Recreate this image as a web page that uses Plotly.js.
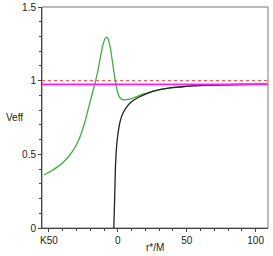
<!DOCTYPE html>
<html>
<head>
<meta charset="utf-8">
<script src="https://cdn.plot.ly/plotly-3.0.1.min.js"></script>
<style>html,body{margin:0;padding:0;background:#fff;}#chart{width:273px;height:256px;}</style>
</head>
<body>
<div id="chart"></div>
<script>
// Green curve (potential with barrier)
const greenR = [-53.6,-48,-44,-40,-36,-33,-30,-28,-26,-24,-22,-20,-18,-16.2,-14.5,-13,-11.5,-10.2,-9.1,-8.2,-7.3,-6.3,-5.3,-4.2,-3.2,-2.2,-1.3,-0.6,0.2,1,2.3,4,5.5,7.5,11,15,20,23.2,30.4,37,44.9,54.3,68.8,88.4,108];
const greenV = [0.36,0.389,0.413,0.443,0.482,0.518,0.565,0.605,0.655,0.716,0.787,0.86,0.93,0.995,1.065,1.142,1.213,1.262,1.287,1.295,1.288,1.26,1.215,1.15,1.085,1.02,0.975,0.94,0.91,0.893,0.878,0.871,0.870,0.873,0.882,0.897,0.913,0.921,0.940,0.950,0.957,0.965,0.970,0.974,0.976];
// Black curve
const blackR = [-2.9,-2.3,-1.7,-0.8,0.2,1.96,3.8,6,8.7,12,15.9,23.2,30.4,37,44.9,54.3,68.8,88.4,108];
const blackV = [0,0.19,0.416,0.56,0.645,0.733,0.78,0.815,0.847,0.87,0.891,0.921,0.940,0.950,0.957,0.965,0.970,0.974,0.976];
// Horizontal reference levels
const levelX = [-55, 109];
const dottedLevel = [1, 1];
const magentaLevel = [0.975, 0.975];
// Axis ticks
const xTickVals = [-50, 0, 50, 100];
const xTickText = ["K50", "0", "50", "100"];
const yTickVals = [0, 0.5, 1, 1.5];
const yTickText = ["0", "0.5", "1", "1.5"];

const traces = [
  {x: levelX, y: dottedLevel, mode: 'lines', line: {color: '#ff3a3a', width: 1, dash: 'dot'}, hoverinfo: 'skip'},
  {x: greenR, y: greenV, mode: 'lines', line: {color: '#3fae3f', width: 1.3, shape: 'spline', smoothing: 0.8}},
  {x: blackR, y: blackV, mode: 'lines', line: {color: '#222222', width: 1.3, shape: 'spline', smoothing: 0.6}},
  {x: levelX, y: magentaLevel, mode: 'lines', line: {color: '#ff1aff', width: 1.6}}
];

const layout = {
  width: 273, height: 256,
  margin: {l: 42, r: 5, t: 7, b: 28},
  paper_bgcolor: '#ffffff', plot_bgcolor: '#ffffff',
  showlegend: false,
  font: {family: 'Arial, "Liberation Sans", sans-serif', size: 10, color: '#222'},
  xaxis: {
    range: [-55, 109], showgrid: false, zeroline: false,
    tickmode: 'array', tickvals: xTickVals, ticktext: xTickText,
    ticks: 'outside', ticklen: 3, tickwidth: 1, tickcolor: '#444',
    showline: true, linecolor: '#444', linewidth: 1,
    minor: {dtick: 10, ticks: 'outside', ticklen: 2, tickcolor: '#444', showgrid: false},
    tickfont: {size: 10, color: '#222'}
  },
  yaxis: {
    range: [0, 1.5], showgrid: false, zeroline: false,
    tickmode: 'array', tickvals: yTickVals, ticktext: yTickText,
    ticks: 'outside', ticklen: 3, tickwidth: 1, tickcolor: '#444',
    showline: true, linecolor: '#444', linewidth: 1,
    minor: {dtick: 0.1, ticks: 'outside', ticklen: 2, tickcolor: '#444', showgrid: false},
    tickfont: {size: 10, color: '#222'}
  },
  shapes: [
    {type: 'rect', xref: 'paper', yref: 'paper', x0: 0, x1: 1, y0: 0, y1: 1, line: {color: '#777', width: 1}, layer: 'below'}
  ],
  annotations: [
    {text: 'Veff', xref: 'paper', yref: 'paper', x: -0.122, y: 0.5, showarrow: false, xanchor: 'center', yanchor: 'middle', font: {size: 10, color: '#222'}},
    {text: 'r*/M', xref: 'paper', yref: 'paper', x: 0.5, y: -0.086, showarrow: false, xanchor: 'center', yanchor: 'middle', font: {size: 10, color: '#222'}}
  ]
};

Plotly.newPlot('chart', traces, layout, {staticPlot: true, displayModeBar: false});
</script>
</body>
</html>
